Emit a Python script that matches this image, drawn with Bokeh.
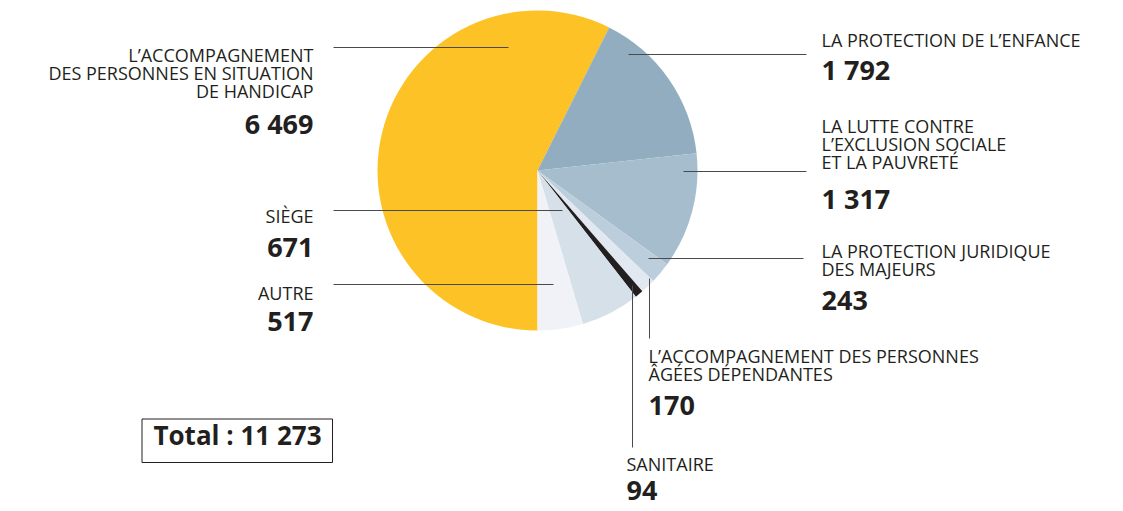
from bokeh.plotting import figure
from bokeh.models import ColumnDataSource
from bokeh.embed import file_html
from bokeh.resources import INLINE
from bokeh.core.properties import value
import math

# ---- data ----
categories = [
    "L'ACCOMPAGNEMENT DES PERSONNES EN SITUATION DE HANDICAP",
    "LA PROTECTION DE L'ENFANCE",
    "LA LUTTE CONTRE L'EXCLUSION SOCIALE ET LA PAUVRETÉ",
    "LA PROTECTION JURIDIQUE DES MAJEURS",
    "L'ACCOMPAGNEMENT DES PERSONNES ÂGÉES DÉPENDANTES",
    "SANITAIRE",
    "SIÈGE",
    "AUTRE",
]
values = [6469, 1792, 1317, 243, 170, 94, 671, 517]
value_labels = ["6 469", "1 792", "1 317", "243", "170", "94", "671", "517"]
label_lines = [
    ["L\u2019ACCOMPAGNEMENT", "DES PERSONNES EN SITUATION", "DE HANDICAP"],
    ["LA PROTECTION DE L\u2019ENFANCE"],
    ["LA LUTTE CONTRE", "L\u2019EXCLUSION SOCIALE", "ET LA PAUVRETÉ"],
    ["LA PROTECTION JURIDIQUE", "DES MAJEURS"],
    ["L\u2019ACCOMPAGNEMENT DES PERSONNES", "ÂGÉES DÉPENDANTES"],
    ["SANITAIRE"],
    ["SIÈGE"],
    ["AUTRE"],
]
total_label = "Total : 11 273"

# ---- styles / layout ----
colors = ["#FDC225", "#91ADBF", "#A6BDCD", "#BCCEDB", "#E1E8F0", "#231F20", "#D5E0E8", "#F0F2F7"]
W, H = 1123, 511
CX, CY, R = 537, 170, 160
LBL_SIZE = 18
NUM_SIZE = 27
TOT_SIZE = 26

def Y(sy):
    return H - sy

def base_shift(size):
    return 0.41 * size

# label layout: (x, align, first baseline, number baseline)
label_pos = [
    (313, "right", 62, 134),
    (821, "left", 47, 80),
    (821, "left", 133, 209),
    (821, "left", 258, 311),
    (648, "left", 363, 416),
    (626, "left", 471, 501),
    (313, "right", 223, 258),
    (313, "right", 300, 332),
]
leaders = [
    ((333, 47), (508, 47)),
    ((628, 54), (806, 54)),
    ((683, 171), (806, 171)),
    ((648, 258), (803, 258)),
    ((649, 278), (649, 338)),
    ((632, 285), (632, 447)),
    ((333, 210), (562, 210)),
    ((333, 284), (553, 284)),
]

p = figure(width=W, height=H, x_range=(0, W), y_range=(0, H),
           x_axis_type=None, y_axis_type=None, toolbar_location=None,
           output_backend="svg", min_border=0)
p.grid.visible = False
p.outline_line_color = None
p.background_fill_color = "white"

total = sum(values)
starts, ends = [], []
cum = 0.0
for v in values:
    a_end = math.radians(270 - cum / total * 360)
    a_start = math.radians(270 - (cum + v) / total * 360)
    starts.append(a_start)
    ends.append(a_end)
    cum += v

src = ColumnDataSource(dict(x=[CX] * len(values), y=[Y(CY)] * len(values),
                            start=starts, end=ends, color=colors))
p.wedge(x="x", y="y", radius=R, start_angle="start", end_angle="end",
        fill_color="color", line_color=None, source=src)

for (a, b) in leaders:
    p.line([a[0], b[0]], [Y(a[1]), Y(b[1])], line_color="#4A4A4A", line_width=1)

font = value("Open Sans")
for i, lines in enumerate(label_lines):
    x, align, base, nbase = label_pos[i]
    ys = [Y(base + 18 * k - base_shift(LBL_SIZE)) for k in range(len(lines))]
    p.text(x=[x] * len(lines), y=ys, text=lines, text_font=font,
           text_font_size=f"{LBL_SIZE}px", text_color="#231F20", text_align=align,
           text_baseline="alphabetic")
    p.text(x=[x], y=[Y(nbase - base_shift(NUM_SIZE))], text=[value_labels[i]], text_font=font,
           text_font_size=f"{NUM_SIZE}px", text_font_style="bold", text_color="#231F20",
           text_align=align, text_baseline="alphabetic")

# total box
p.quad(left=[141.5], right=[332], top=[Y(418.5)], bottom=[Y(462)],
       fill_color=None, line_color="#231F20", line_width=1)
p.text(x=[237], y=[Y(445 - base_shift(TOT_SIZE))], text=[total_label], text_font=font,
       text_font_size=f"{TOT_SIZE}px", text_font_style="bold", text_color="#231F20",
       text_align="center", text_baseline="alphabetic")

open("out.html", "w").write(file_html(p, INLINE))
